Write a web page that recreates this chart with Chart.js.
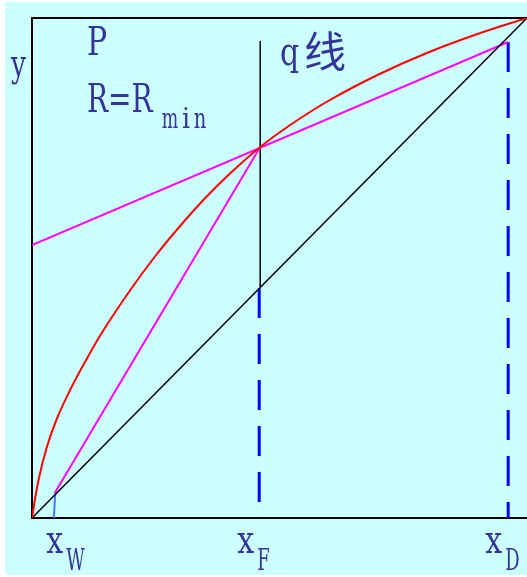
<!DOCTYPE html>
<html>
<head>
<meta charset="utf-8">
<script src="https://cdn.jsdelivr.net/npm/chart.js@4/dist/chart.umd.min.js"></script>
<style>
  html, body { margin: 0; padding: 0; background: #ffffff; }
  #wrap { position: absolute; left: 0; top: 0; width: 527px; height: 577px; }
</style>
</head>
<body>
<div id="wrap"><canvas id="mccabe" width="527" height="577"></canvas></div>
<script>
// equilibrium curve
const eqX = [0, 0.013, 0.03, 0.05, 0.077, 0.107, 0.144, 0.20, 0.25, 0.30, 0.35, 0.40, 0.461, 0.52, 0.60, 0.70, 0.80, 0.90, 1.0];
const eqY = [0, 0.075, 0.142, 0.198, 0.256, 0.312, 0.375, 0.458, 0.525, 0.585, 0.64, 0.689, 0.742, 0.785, 0.835, 0.887, 0.931, 0.968, 1.0];

// diagonal y = x
const diagX = [0, 1];
const diagY = [0, 1];

// operating lines at minimum reflux
const rectX = [0, 0.962];
const rectY = [0.546, 0.952];
const stripX = [0.046, 0.461];
const stripY = [0.05, 0.742];

// q line (vertical, saturated liquid feed)
const qX = [0.461, 0.461];
const qY = [0.462, 0.954];

// composition markers
const xfX = [0.459, 0.459];
const xfY = [0.46, 0.03];
const xdX = [0.962, 0.962];
const xdY = [0.952, 0];
const xwX = [0.047, 0.044];
const xwY = [0.05, 0];

// tick labels under the x axis
const tickMain = ['x', 'x', 'x'];
const tickSub = ['W', 'F', 'D'];
const tickAt = [0.045, 0.459, 0.962];

const pts = (xs, ys) => xs.map((x, i) => ({ x: x, y: ys[i] }));

const line = (label, xs, ys, color, width, extra) => Object.assign({
    label: label,
    data: pts(xs, ys),
    showLine: true,
    borderColor: color,
    borderWidth: width,
    pointRadius: 0,
    fill: false
}, extra || {});

const textColor = '#333399';
const serif = '"DejaVu Serif", serif';

// background, frame and labels
const decor = {
    id: 'decor',
    beforeDraw(chart) {
        const c = chart.ctx;
        c.save();
        c.fillStyle = '#ccffff';
        c.fillRect(5, 2, 522, 573);
        c.restore();
    },
    beforeDatasetsDraw(chart) {
        const c = chart.ctx;
        const a = chart.chartArea;
        c.save();
        c.strokeStyle = '#000000';
        c.lineWidth = 2;
        c.beginPath();
        c.moveTo(a.right + 2, a.top);
        c.lineTo(a.left, a.top);
        c.lineTo(a.left, a.bottom);
        c.lineTo(a.right + 2, a.bottom);
        c.stroke();
        c.restore();
    },
    afterDatasetsDraw(chart) {
        const c = chart.ctx;
        const xs = chart.scales.x;
        c.save();
        c.fillStyle = textColor;
        c.textBaseline = 'alphabetic';

        const put = (txt, x, y, size, sx, fam, align) => {
            c.save();
            c.font = size + 'px ' + (fam || serif);
            c.textAlign = align || 'left';
            c.translate(x, y);
            c.scale(sx, 1);
            c.fillText(txt, 0, 0);
            c.restore();
        };

        put('y', 11, 76, 38, 0.7);
        put('P', 87, 55, 40, 0.75);
        put('R=R', 87, 112, 40, 0.7);
        // monospaced-looking subscript
        put('m', 170, 128, 28, 0.62, null, 'center');
        put('i', 186, 128, 28, 0.9, null, 'center');
        put('n', 200, 128, 28, 0.7, null, 'center');

        put('q', 280, 65, 40, 0.75);
        put('线', 304, 67, 42, 1.0, '"Noto Sans CJK SC", sans-serif');

        const offs = [-8, -22, -23];
        tickAt.forEach((v, i) => {
            const px = xs.getPixelForValue(v) + offs[i];
            put(tickMain[i], px, 553, 40, 0.75);
            put(tickSub[i], px + 20, 570, 30, 0.6);
        });
        c.restore();
    }
};

new Chart(document.getElementById('mccabe'), {
    type: 'scatter',
    data: {
        datasets: [
            line('平衡线', eqX, eqY, '#ff0000', 2, { tension: 0.4 }),
            line('对角线', diagX, diagY, '#000000', 1.5),
            line('精馏段操作线', rectX, rectY, '#ff00ff', 2),
            line('提馏段操作线', stripX, stripY, '#ff00ff', 2),
            line('q线', qX, qY, '#000000', 1.5),
            line('xF', xfX, xfY, '#0000ff', 3, { borderDash: [30, 16] }),
            line('xD', xdX, xdY, '#0000ff', 3, { borderDash: [30, 16] }),
            line('xW', xwX, xwY, '#4477ff', 2)
        ]
    },
    options: {
        responsive: false,
        animation: false,
        layout: { padding: { left: 32, top: 18, right: 0, bottom: 59 } },
        plugins: {
            legend: { display: false },
            tooltip: { enabled: false }
        },
        scales: {
            x: { type: 'linear', min: 0, max: 1, display: false },
            y: { type: 'linear', min: 0, max: 1, display: false }
        }
    },
    plugins: [decor]
});
</script>
</body>
</html>
